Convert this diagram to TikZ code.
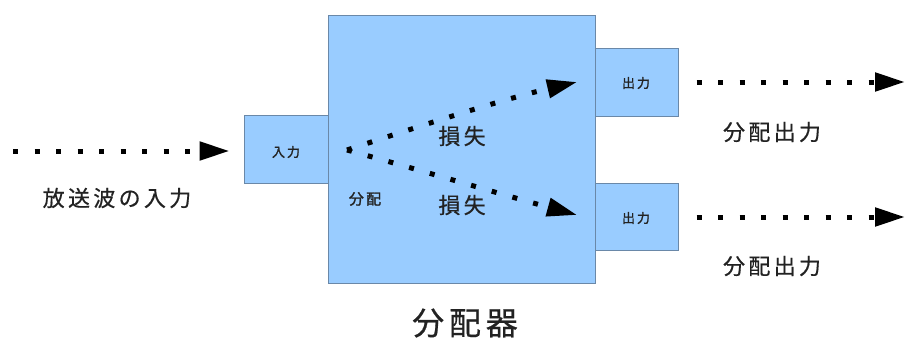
\documentclass[tikz,border=0pt]{standalone}
\usepackage{fontspec}
\newfontfamily\jp[LetterSpace=15,FakeBold=0.6]{Noto Sans CJK JP}
\newfontfamily\jpb[LetterSpace=15,FakeBold=1.6]{Noto Sans CJK JP}
\usetikzlibrary{arrows.meta}
\definecolor{boxfill}{HTML}{99CCFF}
\definecolor{boxline}{HTML}{6A88A8}
\definecolor{txt}{HTML}{222222}
\tikzset{
  blk/.style={draw=boxline, line width=1pt, fill=boxfill, inner sep=0pt},
  lbl/.style={text=txt, font=\jp, inner sep=0pt},
  dotarrow/.style={line width=5pt, dash pattern=on 5pt off 16.5pt, draw=black,
    -{Triangle[length=30pt,width=18pt]}},
}
\begin{document}
\begin{tikzpicture}[x=1pt,y=-1pt]
\useasboundingbox (0,0) rectangle (905,343);
% boxes
\node[blk, minimum width=84pt, minimum height=68pt] (inbox) at (286,149) {};
\node[blk, minimum width=83pt, minimum height=68pt] (outA) at (636.5,82) {};
\node[blk, minimum width=83pt, minimum height=67pt] (outB) at (636.5,216.5) {};
\node[blk, minimum width=267pt, minimum height=268pt] (main) at (461.5,149) {};
% texts in boxes
\node[lbl, font=\jpb\fontsize{13}{13}\selectfont] (tin) at (286,152) {入力};
\node[lbl, font=\jpb\fontsize{13}{13}\selectfont] (toA) at (636,83) {出力};
\node[lbl, font=\jpb\fontsize{13}{13}\selectfont] (toB) at (636,218) {出力};
\node[lbl, font=\jpb\fontsize{15}{15}\selectfont] (tdist) at (365,199) {分配};
\node[lbl, font=\jp\fontsize{22}{22}\selectfont] (lossA) at (462,136) {損失};
\node[lbl, font=\jp\fontsize{22}{22}\selectfont] (lossB) at (462,205) {損失};
% outside labels
\node[lbl, font=\jp\fontsize{22}{22}\selectfont] (lin) at (117,198) {放送波の入力};
\node[lbl, font=\jp\fontsize{22}{22}\selectfont] (loA) at (772,132) {分配出力};
\node[lbl, font=\jp\fontsize{22}{22}\selectfont] (loB) at (772,266) {分配出力};
\node[lbl, font=\jp\fontsize{32}{32}\selectfont] (title) at (465,323) {分配器};
% coordinates
\coordinate (src) at (13,151);
\coordinate (split) at (347,150);
\coordinate (tipA) at (577,82);
\coordinate (tipB) at (577,215);
\coordinate (endA) at (905,82);
\coordinate (endB) at (905,217);
% connectors
\draw[dotarrow] (src) -- ([xshift=-14pt]inbox.west |- src);
\draw[dotarrow] (split) .. controls (420,126) and (500,100) .. (tipA);
\draw[dotarrow] (split) .. controls (420,170) and (500,194) .. (tipB);
\draw[dotarrow] ([xshift=18pt]outA.east) -- (endA);
\draw[dotarrow] ([xshift=18pt]outB.east |- endB) -- (endB);
\end{tikzpicture}
\end{document}
